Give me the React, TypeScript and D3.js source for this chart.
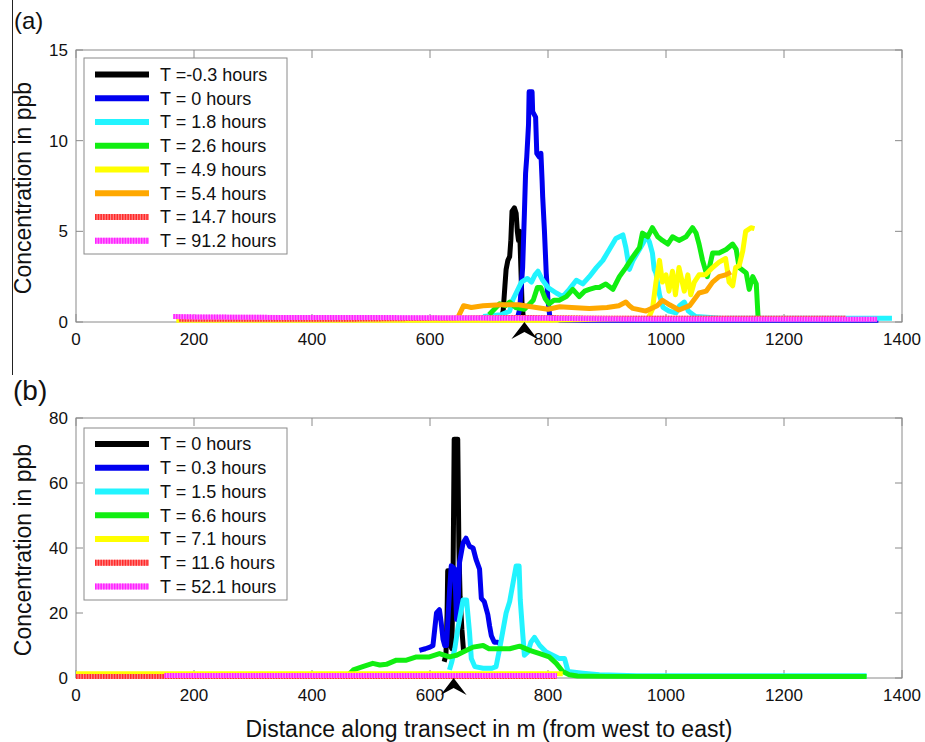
import React from 'react';
import * as d3 from 'd3';

type Pt = [number, number];

// ---------- shared axis data ----------
const xTicks = [0, 200, 400, 600, 800, 1000, 1200, 1400];
const aYTicks = [0, 5, 10, 15];
const bYTicks = [0, 20, 40, 60, 80];
const xLabel = 'Distance along transect in m (from west to east)';
const yLabel = 'Concentration in ppb';

// ---------- panel (a) ----------
const aLabels = ['T =-0.3 hours', 'T = 0 hours', 'T = 1.8 hours', 'T = 2.6 hours', 'T = 4.9 hours', 'T = 5.4 hours', 'T = 14.7 hours', 'T = 91.2 hours'];
const aColors = ['#000000', '#0000f0', '#22f4ff', '#11ee11', '#ffff00', '#ffa800', '#ff2a2a', '#ff22ff'];
const aArrowAt = 760;

const aBlack: Pt[] = [[720, 0.2], [724, 0.6], [727, 2.0], [729, 2.9], [732, 3.4], [735, 3.6], [737, 4.5], [739, 6.1], [743, 6.3], [746, 6.0], [748, 5.0], [750, 4.5], [752, 5.0], [754, 3.0], [756, 1.0], [758, 0.3], [762, 0.1]];
const aBlue: Pt[] = [[748, 0.2], [752, 0.7], [757, 3.0], [760, 6.0], [762, 8.2], [764, 9.1], [767, 10.9], [768, 12.7], [773, 12.7], [774, 11.6], [779, 11.3], [781, 9.3], [785, 9.1], [788, 9.3], [790, 7.8], [791, 6.9], [794, 5.0], [797, 2.7], [800, 1.2], [803, 0.3], [820, 0.1], [1000, 0.1], [1200, 0.1], [1360, 0.1]];
const aCyan: Pt[] = [[690, 0.3], [720, 0.4], [735, 0.6], [740, 1.2], [746, 1.6], [755, 2.2], [765, 2.4], [772, 2.2], [778, 2.6], [783, 2.8], [791, 2.3], [800, 1.9], [814, 1.6], [825, 1.4], [836, 1.8], [848, 2.3], [859, 2.1], [870, 2.5], [882, 3.0], [893, 3.4], [904, 4.0], [915, 4.6], [921, 4.7], [927, 4.8], [932, 4.1], [938, 2.9], [944, 3.4], [955, 4.0], [962, 4.4], [966, 4.8], [972, 4.4], [977, 3.8], [980, 2.9], [983, 2.7], [989, 1.5], [995, 0.8], [1005, 0.6], [1017, 0.5], [1023, 0.9], [1031, 1.1], [1038, 0.6], [1050, 0.3], [1100, 0.2], [1200, 0.2], [1300, 0.2], [1383, 0.2]];
const aGreen: Pt[] = [[700, 0.4], [718, 1.0], [728, 0.9], [735, 1.1], [745, 0.8], [760, 0.7], [775, 1.2], [782, 1.9], [788, 1.9], [795, 1.3], [802, 1.0], [810, 1.2], [819, 1.2], [831, 1.4], [842, 1.8], [853, 1.4], [862, 1.7], [870, 1.8], [880, 1.9], [887, 1.9], [898, 2.1], [910, 1.8], [921, 2.5], [932, 3.0], [944, 3.6], [955, 4.1], [960, 4.9], [969, 4.7], [977, 5.2], [986, 4.7], [994, 4.5], [1003, 4.3], [1011, 4.7], [1022, 4.5], [1034, 4.7], [1045, 5.2], [1051, 4.9], [1056, 4.3], [1062, 3.4], [1070, 2.5], [1079, 3.8], [1090, 3.8], [1102, 4.0], [1113, 4.3], [1119, 4.0], [1124, 3.0], [1136, 2.7], [1141, 1.8], [1147, 2.5], [1153, 2.1], [1156, 0.3], [1160, 0.1]];
const aYellow: Pt[] = [[170, 0.1], [500, 0.1], [800, 0.1], [970, 0.2], [977, 0.7], [983, 2.2], [989, 3.4], [994, 2.2], [1000, 2.6], [1005, 1.7], [1011, 2.8], [1016, 1.5], [1022, 3.0], [1031, 1.7], [1037, 2.6], [1042, 1.5], [1048, 2.2], [1056, 2.6], [1067, 2.6], [1079, 3.0], [1090, 3.3], [1101, 3.5], [1107, 2.2], [1113, 2.0], [1118, 3.0], [1124, 3.1], [1130, 3.9], [1135, 5.0], [1144, 5.2], [1150, 5.15]];
const aOrange: Pt[] = [[648, 0.3], [657, 0.9], [670, 0.8], [690, 0.9], [720, 0.95], [750, 0.95], [780, 0.8], [800, 0.7], [820, 0.84], [840, 0.8], [870, 0.75], [900, 0.8], [920, 0.9], [932, 1.1], [938, 0.9], [944, 0.75], [966, 0.6], [985, 0.9], [994, 1.2], [1006, 0.95], [1022, 0.66], [1040, 0.9], [1056, 1.6], [1068, 1.7], [1079, 2.2], [1090, 2.5], [1101, 2.6], [1110, 2.75]];
const aRed: Pt[] = [[175, 0.15], [300, 0.15], [450, 0.15], [600, 0.2], [750, 0.25], [900, 0.2], [1050, 0.2], [1200, 0.2], [1305, 0.2]];
const aMagenta: Pt[] = [[165, 0.3], [200, 0.28], [350, 0.25], [500, 0.25], [650, 0.22], [800, 0.2], [950, 0.15], [1100, 0.15], [1250, 0.15], [1358, 0.15]];

// ---------- panel (b) ----------
const bLabels = ['T = 0 hours', 'T = 0.3 hours', 'T = 1.5 hours', 'T = 6.6 hours', 'T = 7.1 hours', 'T = 11.6 hours', 'T = 52.1 hours'];
const bColors = ['#000000', '#0000f0', '#22f4ff', '#11ee11', '#ffff00', '#ff2a2a', '#ff22ff'];
const bArrowAt = 640;

const bBlack: Pt[] = [[624, 5], [627, 7], [629, 20], [630, 33], [632, 33], [633, 20], [635, 10], [637, 9], [639, 30], [641, 73.5], [647, 73.5], [649, 40], [651, 25], [654, 15], [657, 8]];
const bBlue: Pt[] = [[582, 8.5], [592, 9], [600, 9.5], [605, 10], [608, 15], [611, 20], [616, 21], [619, 17], [622, 12], [625, 10], [628, 10], [631, 20], [633, 26.5], [636, 34.5], [642, 33.5], [645, 18], [648, 25], [650, 35.5], [656, 41.5], [661, 43], [667, 40.5], [673, 40], [678, 36.5], [684, 33.5], [687, 24.5], [692, 23.5], [698, 19.5], [701, 16], [704, 13], [709, 11], [715, 11], [719, 10.5]];
const bCyan: Pt[] = [[633, 2.5], [637, 5], [642, 9], [647, 15], [652, 20], [656, 24], [662, 24], [665, 18], [667, 14], [670, 6], [676, 3.5], [690, 3], [705, 3], [712, 3.5], [718, 9], [723, 14], [729, 20], [735, 23.5], [740, 28.5], [746, 34.5], [751, 34.5], [753, 24], [757, 14], [760, 7], [766, 8], [771, 11], [777, 12.5], [786, 10], [797, 8], [808, 7], [819, 6], [828, 6], [834, 2], [859, 1.5], [887, 1], [950, 0.7], [1100, 0.7], [1250, 0.7], [1340, 0.7]];
const bGreen: Pt[] = [[462, 1], [470, 2.5], [486, 3.5], [503, 4.5], [515, 4], [526, 4.2], [543, 5.5], [560, 5.5], [577, 6.5], [599, 6.5], [616, 7.5], [633, 6.5], [645, 7], [656, 8], [673, 9.5], [690, 10], [700, 9], [712, 9], [735, 9], [752, 9.8], [769, 8.5], [786, 7.5], [802, 6.5], [814, 4.5], [825, 2], [836, 1], [850, 0.6], [900, 0.5], [1000, 0.5], [1100, 0.5], [1200, 0.5], [1340, 0.5]];
const bYellow: Pt[] = [[0, 1.3], [150, 1.3], [300, 1.3], [450, 1.3], [600, 1.3], [750, 1.3], [825, 1.3]];
const bRed: Pt[] = [[0, 0.5], [150, 0.5], [300, 0.5], [450, 0.5], [600, 0.5], [750, 0.5], [815, 0.5]];
const bMagenta: Pt[] = [[150, 0.8], [300, 0.8], [450, 0.8], [600, 0.8], [750, 0.8], [815, 0.8]];

const aSeries = [aBlack, aBlue, aCyan, aGreen, aYellow, aOrange, aRed, aMagenta];
const bSeries = [bBlack, bBlue, bCyan, bGreen, bYellow, bRed, bMagenta];

const FONT = 'Liberation Sans, Arial, Helvetica, sans-serif';
const AXIS = '#8a8a8a';

type PanelProps = {
  top: number; bottom: number; left: number; right: number;
  yMax: number; yTicks: number[];
  series: Pt[][]; colors: string[]; labels: string[]; textured: number[];
  legendTop: number; legendBottom: number; legendRow0: number;
  arrowAt: number; tag: string; tagX: number; tagY: number; tagSize: number;
};

function Panel(p: PanelProps) {
  const x = d3.scaleLinear().domain([0, 1400]).range([p.left, p.right]);
  const y = d3.scaleLinear().domain([0, p.yMax]).range([p.bottom, p.top]);
  const line = d3.line<Pt>().x(d => x(d[0])).y(d => y(d[1]));
  const rowH = 23.75;
  const light = (c: string) => d3.interpolateRgb(c, '#ffffff')(0.45);
  const ax = x(p.arrowAt);
  const ay = p.bottom + 15;
  return (
    <g>
      <text x={p.tagX} y={p.tagY} fontSize={p.tagSize} fontFamily={FONT} fill="#111">{p.tag}</text>
      <rect x={p.left} y={p.top} width={p.right - p.left} height={p.bottom - p.top} fill="#fff" stroke={AXIS} strokeWidth={1} />
      {/* x ticks */}
      {xTicks.map(t => (
        <g key={'xt' + t}>
          <line x1={x(t)} x2={x(t)} y1={p.bottom} y2={p.bottom - 8} stroke={AXIS} />
          <line x1={x(t)} x2={x(t)} y1={p.top} y2={p.top + 8} stroke={AXIS} />
          <text x={x(t)} y={p.bottom + 23} textAnchor="middle" fontSize={17} fontFamily={FONT} fill="#111">{t}</text>
        </g>
      ))}
      {/* y ticks */}
      {p.yTicks.map(t => (
        <g key={'yt' + t}>
          <line x1={p.left} x2={p.left + 7} y1={y(t)} y2={y(t)} stroke={AXIS} />
          <line x1={p.right} x2={p.right - 7} y1={y(t)} y2={y(t)} stroke={AXIS} />
          <text x={p.left - 8} y={y(t)} dy="0.36em" textAnchor="end" fontSize={17} fontFamily={FONT} fill="#111">{t}</text>
        </g>
      ))}
      {/* series */}
      {p.series.map((s, i) => {
        const tex = p.textured.includes(i);
        return (
          <g key={'s' + i}>
            <path d={line(s) || ''} fill="none" stroke={tex ? light(p.colors[i]) : p.colors[i]} strokeWidth={5} strokeLinejoin="round" />
            {tex && <path d={line(s) || ''} fill="none" stroke={p.colors[i]} strokeWidth={5} strokeDasharray="1.5 1.2" />}
          </g>
        );
      })}
      {/* legend */}
      <rect x={84} y={p.legendTop} width={203} height={p.legendBottom - p.legendTop} fill="#fff" stroke={AXIS} strokeWidth={1} />
      {p.labels.map((lab, i) => {
        const ly = p.legendRow0 + i * rowH;
        const tex = p.textured.includes(i);
        return (
          <g key={'lg' + i}>
            <line x1={95} x2={149} y1={ly} y2={ly} stroke={tex ? light(p.colors[i]) : p.colors[i]} strokeWidth={6} />
            {tex && <line x1={95} x2={149} y1={ly} y2={ly} stroke={p.colors[i]} strokeWidth={6} strokeDasharray="1.5 1.2" />}
            <text x={160} y={ly} dy="0.36em" fontSize={18} fontFamily={FONT} fill="#111">{lab}</text>
          </g>
        );
      })}
      {/* y label */}
      <text transform={`translate(31,${(p.top + p.bottom) / 2 + 2}) rotate(-90)`} textAnchor="middle" fontSize={23} fontFamily={FONT} fill="#111">{yLabel}</text>
      {/* arrow marker */}
      <path d={`M${ax},${ay - 15} L${ax + 13},${ay + 2} L${ax},${ay - 5} L${ax - 13},${ay + 2} Z`} fill="#000" />
    </g>
  );
}

export default function App() {
  return (
    <svg width={925} height={742} style={{ position: 'absolute', left: 0, top: 0, background: '#fff' }}>
      <rect x={0} y={0} width={925} height={742} fill="#fff" />
      <line x1={12.5} x2={12.5} y1={0} y2={375} stroke="#222" strokeWidth={1} />
      <Panel top={50} bottom={322} left={76} right={902} yMax={15} yTicks={aYTicks}
        series={aSeries} colors={aColors} labels={aLabels} textured={[6, 7]}
        legendTop={58} legendBottom={254} legendRow0={74.5}
        arrowAt={aArrowAt} tag="(a)" tagX={14} tagY={29} tagSize={24} />
      <Panel top={418} bottom={678} left={76} right={902} yMax={80} yTicks={bYTicks}
        series={bSeries} colors={bColors} labels={bLabels} textured={[5, 6]}
        legendTop={428} legendBottom={600} legendRow0={444}
        arrowAt={bArrowAt} tag="(b)" tagX={13} tagY={400} tagSize={28} />
      <text x={489} y={737} textAnchor="middle" fontSize={23} fontFamily={FONT} fill="#111">{xLabel}</text>
    </svg>
  );
}
